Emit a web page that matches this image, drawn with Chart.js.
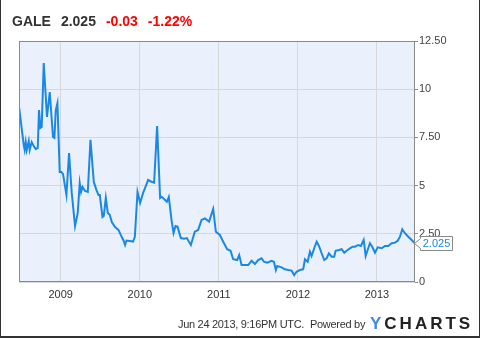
<!DOCTYPE html>
<html>
<head>
<meta charset="utf-8">
<script src="https://cdn.jsdelivr.net/npm/chart.js@4"></script>
<style>
  body { margin: 0; background: #fff; }
  #wrap { position: relative; width: 480px; height: 338px; overflow: hidden; font-family: "Liberation Sans", Arial, sans-serif; }
  #frame { position: absolute; left: 0; top: 0; width: 478px; height: 336px; border-left: 1px solid #333; border-right: 1px solid #333; border-bottom: 2px solid #333; pointer-events: none; }
  .txt { position: absolute; white-space: nowrap; }
  #title { left: 12px; top: 13px; font-size: 14px; line-height: 16px; font-weight: bold; color: #333; }
  #title .red { color: #f00; }
  #stamp { left: 178px; top: 318px; font-size: 11px; line-height: 13px; letter-spacing: -0.3px; color: #333; }
  #powered { left: 310px; top: 318px; font-size: 11px; line-height: 13px; letter-spacing: -0.3px; color: #333; }
  #logo { left: 370px; top: 314px; font-size: 17px; line-height: 20px; font-weight: bold; color: #222; letter-spacing: 3px; }
  #logo span { color: #3f8ae0; }
</style>
</head>
<body>
<div id="wrap">
  <canvas id="chartGale" width="480" height="338"></canvas>
  <div class="txt" id="title">GALE<span style="margin-left:10px">2.025</span><span class="red" style="margin-left:10px">-0.03</span><span class="red" style="margin-left:10px">-1.22%</span></div>
  <div class="txt" id="stamp">Jun 24 2013, 9:16PM UTC.</div>
  <div class="txt" id="powered">Powered by</div>
  <div class="txt" id="logo"><span>Y</span>CHARTS</div>
  <div id="frame"></div>
</div>
<script>
// dates as decimal years, prices in USD
const dates = [
  2008.475, 2008.532, 2008.544, 2008.557, 2008.570, 2008.595, 2008.607, 2008.633, 2008.658, 2008.683,
  2008.709, 2008.725, 2008.743, 2008.759, 2008.785, 2008.826, 2008.861, 2008.902, 2008.920, 2008.937,
  2008.958, 2008.987, 2009.009, 2009.029, 2009.072, 2009.105, 2009.139, 2009.181, 2009.215, 2009.240,
  2009.257, 2009.275, 2009.308, 2009.342, 2009.376, 2009.418, 2009.452, 2009.477, 2009.494, 2009.528,
  2009.544, 2009.570, 2009.595, 2009.620, 2009.646, 2009.687, 2009.730, 2009.772, 2009.797, 2009.814,
  2009.832, 2009.873, 2009.915, 2009.937, 2009.971, 2010.004, 2010.042, 2010.072, 2010.105, 2010.148,
  2010.181, 2010.219, 2010.257, 2010.275, 2010.308, 2010.342, 2010.367, 2010.401, 2010.427, 2010.452,
  2010.477, 2010.519, 2010.561, 2010.595, 2010.646, 2010.696, 2010.738, 2010.781, 2010.823, 2010.877,
  2010.928, 2010.962, 2011.013, 2011.055, 2011.105, 2011.148, 2011.181, 2011.232, 2011.257, 2011.287,
  2011.329, 2011.371, 2011.414, 2011.456, 2011.497, 2011.540, 2011.570, 2011.611, 2011.667, 2011.696,
  2011.721, 2011.738, 2011.794, 2011.835, 2011.877, 2011.920, 2011.953, 2011.983, 2012.025, 2012.067,
  2012.089, 2012.123, 2012.152, 2012.173, 2012.206, 2012.237, 2012.266, 2012.300, 2012.333, 2012.363,
  2012.392, 2012.427, 2012.459, 2012.477, 2012.519, 2012.553, 2012.586, 2012.616, 2012.658, 2012.692,
  2012.721, 2012.763, 2012.797, 2012.832, 2012.857, 2012.882, 2012.911, 2012.940, 2012.975, 2013.009,
  2013.060, 2013.101, 2013.143, 2013.186, 2013.228, 2013.262, 2013.291, 2013.320, 2013.354, 2013.396,
  2013.439, 2013.475
];
const prices = [
  9.02, 7.10, 6.85, 7.26, 6.85, 7.31, 6.85, 7.26, 7.05, 6.90,
  6.95, 8.92, 7.99, 8.04, 11.36, 8.56, 9.85, 7.52, 7.47, 8.92,
  9.28, 5.71, 5.71, 5.60, 4.51, 6.69, 4.62, 2.90, 3.58, 5.13,
  4.67, 4.93, 4.72, 4.67, 7.37, 5.19, 4.77, 4.51, 4.51, 3.37,
  3.42, 4.36, 3.58, 3.48, 3.11, 2.85, 2.70, 2.33, 2.13, 1.92,
  2.15, 2.13, 2.10, 2.33, 4.67, 4.10, 4.62, 4.93, 5.29, 5.20,
  5.15, 8.09, 4.36, 4.42, 4.30, 4.16, 4.41, 3.22, 2.54, 2.90,
  2.87, 2.28, 2.25, 2.28, 1.92, 2.61, 2.70, 3.22, 3.30, 3.13,
  3.79, 2.61, 2.44, 2.09, 1.70, 1.62, 1.18, 1.14, 1.40, 0.88,
  0.88, 0.88, 1.10, 0.93, 1.14, 1.23, 1.05, 1.00, 1.10, 1.05,
  0.62, 0.83, 0.76, 0.66, 0.62, 0.59, 0.36, 0.53, 0.62, 0.66,
  1.18, 1.05, 1.57, 1.35, 1.75, 2.09, 1.87, 1.49, 1.14, 1.23,
  1.49, 1.31, 1.31, 1.62, 1.66, 1.70, 1.52, 1.62, 1.75, 1.83,
  1.83, 1.92, 1.87, 2.18, 1.35, 1.66, 2.01, 1.83, 1.52, 1.80,
  1.75, 1.87, 1.87, 2.01, 2.04, 2.14, 2.35, 2.73, 2.53, 2.35,
  2.18, 2.025
];
const yearTicks = [2009, 2010, 2011, 2012, 2013];
const priceTicks = [0, 2.5, 5, 7.5, 10, 12.5];
const lastLabel = '2.025';

const lineBlue = '#1a88e6';

const plotFrame = {
    id: 'plotFrame',
    beforeDraw(chart) {
        const a = chart.chartArea, ctx = chart.ctx;
        ctx.save();
        ctx.fillStyle = '#eaf1fc';
        ctx.fillRect(a.left, a.top, a.right - a.left, a.bottom - a.top);
        ctx.restore();
    },
    afterDraw(chart) {
        const a = chart.chartArea, ctx = chart.ctx;
        ctx.save();
        ctx.strokeStyle = '#8a8a8a';
        ctx.lineWidth = 1;
        ctx.strokeRect(a.left + 0.5, a.top + 0.5, a.right - a.left - 1, a.bottom - a.top - 1);

        // last value flag
        const meta = chart.getDatasetMeta(0);
        const pt = meta.data[meta.data.length - 1];
        const y = Math.round(pt.y) + 0.5;
        const x0 = a.right + 5.5, x1 = a.right + 37.5;
        ctx.beginPath();
        ctx.moveTo(a.right - 0.5, y);
        ctx.lineTo(x0, y - 5);
        ctx.lineTo(x0, y - 7);
        ctx.lineTo(x1, y - 7);
        ctx.lineTo(x1, y + 7);
        ctx.lineTo(x0, y + 7);
        ctx.lineTo(x0, y + 5);
        ctx.closePath();
        ctx.fillStyle = '#fff';
        ctx.fill();
        ctx.strokeStyle = '#888';
        ctx.stroke();
        ctx.fillStyle = lineBlue;
        ctx.font = '11px "Liberation Sans", Arial, sans-serif';
        ctx.textAlign = 'center';
        ctx.textBaseline = 'middle';
        ctx.fillText(lastLabel, (x0 + x1) / 2, y + 0.5);
        ctx.restore();
    }
};

const ctx = document.getElementById('chartGale');
const config = {
    type: 'line',
    data: {
        datasets: [{
            data: dates.map((d, i) => ({ x: d, y: prices[i] })),
            borderColor: lineBlue,
            borderWidth: 2,
            pointRadius: 0,
            tension: 0,
            fill: false
        }]
    },
    options: {
        responsive: false,
        animation: false,
        layout: { padding: { left: 19, top: 41, right: 0, bottom: 0 } },
        plugins: { legend: { display: false }, tooltip: { enabled: false } },
        scales: {
            x: {
                type: 'linear',
                min: 2008.472,
                max: 2013.481,
                afterBuildTicks: s => { s.ticks = yearTicks.map(v => ({ value: v })); },
                afterFit: s => { s.height = 56; },
                grid: { color: '#d8d8d8', drawTicks: false },
                border: { display: false },
                ticks: {
                    padding: 6,
                    color: '#333',
                    font: { family: '"Liberation Sans", Arial, sans-serif', size: 11 },
                    callback: v => String(v),
                    maxRotation: 0
                }
            },
            y: {
                position: 'right',
                min: 0,
                max: 12.5,
                afterBuildTicks: s => { s.ticks = priceTicks.map(v => ({ value: v })); },
                afterFit: s => { s.width = 65; },
                grid: { color: '#d8d8d8', tickColor: '#8a8a8a', tickLength: 3 },
                border: { display: false },
                ticks: {
                    padding: 1,
                    color: '#444',
                    font: { family: '"Liberation Sans", Arial, sans-serif', size: 11 },
                    callback: v => (v % 1 === 0 ? String(v) : v.toFixed(2))
                }
            }
        }
    },
    plugins: [plotFrame]
};

var chart = new Chart(ctx, config);
</script>
</body>
</html>
